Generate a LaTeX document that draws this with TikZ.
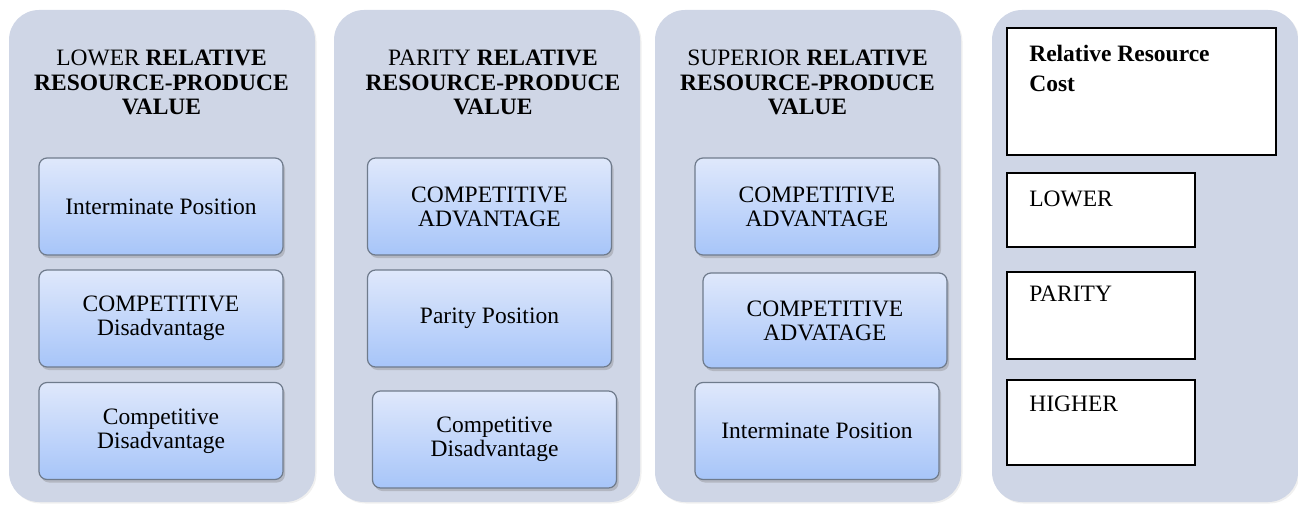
\documentclass[tikz,border=0pt]{standalone}
\usepackage{fontspec}
\setmainfont{Liberation Serif}
\usepackage{tikz}
\usetikzlibrary{shapes,shadows,positioning,fit}

\definecolor{panelgray}{HTML}{CFD6E6}
\definecolor{celltop}{HTML}{DFE8FB}
\definecolor{cellbot}{HTML}{A7C5F9}
\definecolor{cellrim}{HTML}{6F7B8C}

\begin{document}
\begin{tikzpicture}[x=1pt, y=-1pt]
		\tikzstyle{Panel}	= [rectangle, rounded corners=30pt, fill=panelgray, minimum width=306, minimum height=492, inner sep=0pt, drop shadow={opacity=0.12, shadow xshift=1.5pt, shadow yshift=-1.5pt}]
		\tikzstyle{Head}	= [align=center, anchor=north, inner sep=0pt, font=\fontsize{23.5}{24.5}\selectfont]
		\tikzstyle{Cell}	= [rectangle, rounded corners=8pt, draw=cellrim, line width=1.2pt, top color=celltop, bottom color=cellbot, minimum width=244, minimum height=97, align=center, font=\fontsize{23.5}{24}\selectfont, drop shadow={opacity=0.35, shadow xshift=2pt, shadow yshift=-3pt}]
		\tikzstyle{Cost}	= [rectangle, draw=black, line width=1.8pt, fill=white, inner sep=0pt]
		\tikzstyle{CostText}	= [anchor=north west, align=left, inner sep=0pt, font=\fontsize{23.5}{30}\selectfont]

		\useasboundingbox (0,0) rectangle (1298,505);

		% panels
		\node (p1) at (162, 256) [Panel] {};
		\node (p2) at (487, 256) [Panel] {};
		\node (p3) at (808, 256) [Panel] {};
		\node (p4) at (1145, 256) [Panel] {};

		% headings
		\node (h1) at (161.5, 50) [Head] {LOWER \textbf{RELATIVE}\\\textbf{RESOURCE-PRODUCE}\\\textbf{VALUE}};
		\node (h2) at (493, 50) [Head] {PARITY \textbf{RELATIVE}\\\textbf{RESOURCE-PRODUCE}\\\textbf{VALUE}};
		\node (h3) at (807.5, 50) [Head] {SUPERIOR \textbf{RELATIVE}\\\textbf{RESOURCE-PRODUCE}\\\textbf{VALUE}};

		% lower value
		\node (a1) at (161, 206.5) [Cell] {Interminate Position};
		\node (a2) at (161, 318.5) [Cell] {COMPETITIVE\\Disadvantage};
		\node (a3) at (161, 431) [Cell] {Competitive\\Disadvantage};

		% parity value
		\node (b1) at (489.5, 206.5) [Cell] {COMPETITIVE\\ADVANTAGE};
		\node (b2) at (489.5, 318.5) [Cell] {Parity Position};
		\node (b3) at (494.5, 439.5) [Cell] {Competitive\\Disadvantage};

		% superior value
		\node (c1) at (817, 206.5) [Cell] {COMPETITIVE\\ADVANTAGE};
		\node (c2) at (825, 320.5) [Cell, minimum height=95] {COMPETITIVE\\ADVATAGE};
		\node (c3) at (817, 431) [Cell] {Interminate Position};

		% relative resource cost
		\node (rc) at (1141.5, 91.5) [Cost, minimum width=269, minimum height=127] {};
		\node (lo) at (1101, 210) [Cost, minimum width=188, minimum height=74] {};
		\node (pa) at (1101, 315.5) [Cost, minimum width=188, minimum height=87] {};
		\node (hi) at (1101, 422.5) [Cost, minimum width=188, minimum height=85] {};

		\node (rcT) at ([xshift=23pt, yshift=-18pt]rc.north west) [CostText] {\textbf{Relative Resource}\\\textbf{Cost}};
		\node (loT) at ([xshift=23pt, yshift=-19pt]lo.north west) [CostText] {LOWER};
		\node (paT) at ([xshift=23pt, yshift=-15pt]pa.north west) [CostText] {PARITY};
		\node (hiT) at ([xshift=23pt, yshift=-17pt]hi.north west) [CostText] {HIGHER};
	\end{tikzpicture}
\end{document}
